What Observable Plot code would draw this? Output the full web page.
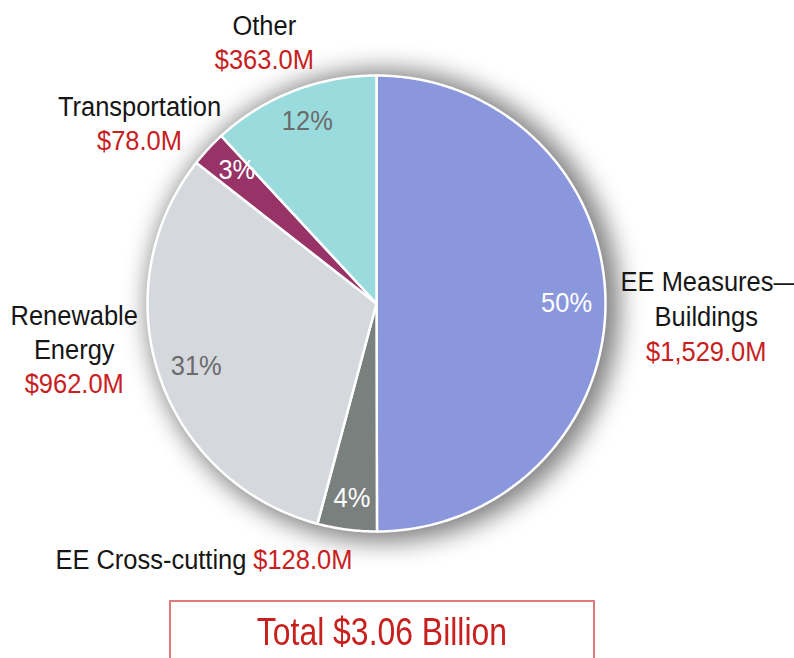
<!DOCTYPE html>
<html>
<head>
<meta charset="utf-8">
<script src="https://cdn.jsdelivr.net/npm/d3@7"></script>
<script src="https://cdn.jsdelivr.net/npm/@observablehq/plot@0.6"></script>
<style>
  html, body { margin: 0; padding: 0; background: #fff; }
  body { width: 794px; height: 658px; overflow: hidden; font-family: "Liberation Sans", Arial, sans-serif; }
  #total {
    position: absolute; left: 169px; top: 600px; width: 426px; height: 80px;
    border: 2px solid #e07a7a; box-sizing: border-box;
    color: #c8201e; font-size: 38px; text-align: center; line-height: 60px;
  }
  #total span { display: inline-block; transform: scaleX(0.84); transform-origin: center; white-space: nowrap; }
</style>
</head>
<body>
<div id="chart"></div>
<div id="total"><span>Total $3.06 Billion</span></div>
<script>
const categories = ["EE Measures—Buildings", "EE Cross-cutting", "Renewable Energy", "Transportation", "Other"];
const values = [1529.0, 128.0, 962.0, 78.0, 363.0];
const percentLabels = ["50%", "4%", "31%", "3%", "12%"];
const valueLabels = ["$1,529.0M", "$128.0M", "$962.0M", "$78.0M", "$363.0M"];
const sliceColors = ["#8b97dc", "#7a807e", "#d5d9dd", "#973366", "#9adbdd"];
const percentColors = ["#ffffff", "#ffffff", "#6b6b6b", "#ffffff", "#6b6b6b"];

const FONT = "Liberation Sans, Arial, sans-serif";
const SQUEEZE = 0.91;

// pie geometry (unit circle, angle 0 at 12 o'clock, clockwise)
const arcs = d3.pie().sort(null).value(d => d)(values);
const slicePoints = [];
arcs.forEach((a, i) => {
  slicePoints.push({name: categories[i], x: 0, y: 0});
  const n = Math.max(2, Math.ceil((a.endAngle - a.startAngle) / 0.01));
  for (let k = 0; k <= n; k++) {
    const t = a.startAngle + (a.endAngle - a.startAngle) * k / n;
    slicePoints.push({name: categories[i], x: Math.sin(t), y: Math.cos(t)});
  }
});
const pctData = arcs.map((a, i) => {
  const m = (a.startAngle + a.endAngle) / 2;
  return {label: percentLabels[i], color: percentColors[i], x: 0.83 * Math.sin(m), y: 0.86 * Math.cos(m)};
});

// outside label lines, placed around the pie in unit coordinates
const nameLabels = [
  {text: "Other", x: -0.49, y: 1.215},
  {text: "Transportation", x: -1.035, y: 0.860},
  {text: "Renewable", x: -1.32, y: -0.057},
  {text: "Energy", x: -1.32, y: -0.206},
  {text: "Buildings", x: 1.44, y: -0.061}
];
const valLabels = [
  {text: valueLabels[4], x: -0.49, y: 1.066},
  {text: valueLabels[3], x: -1.035, y: 0.711},
  {text: valueLabels[2], x: -1.32, y: -0.355},
  {text: valueLabels[0], x: 1.44, y: -0.211}
];

const plot = Plot.plot({
  width: 794,
  height: 590,
  margin: 0,
  x: {domain: [-1, 1], range: [147, 605], axis: null},
  y: {domain: [-1, 1], range: [531, 75], axis: null},
  color: {domain: categories, range: sliceColors},
  marks: [
    Plot.dot([{x: 0.03, y: -0.01}], {x: "x", y: "y", r: 236, fill: "#000", fillOpacity: 0.5}),
    Plot.line(slicePoints, {x: "x", y: "y", z: "name", fill: "name", stroke: "#ffffff", strokeWidth: 2.5, strokeLinejoin: "round", curve: "linear-closed"}),
    Plot.text(pctData, {x: "x", y: "y", text: "label", fill: d => d.color, fontSize: 28, fontFamily: FONT}),
    Plot.text(nameLabels, {x: "x", y: "y", text: "text", fill: "#161616", fontSize: 28, fontFamily: FONT, textAnchor: "middle"}),
    Plot.text([{t: "EE Measures—", x: 1.066, y: 0.092}], {x: "x", y: "y", text: "t", fill: "#161616", fontSize: 28, fontFamily: FONT, textAnchor: "start"}),
    Plot.text(valLabels, {x: "x", y: "y", text: "text", fill: "#c8201e", fontSize: 28, fontFamily: FONT, textAnchor: "middle"}),
    Plot.text([{t: categories[1], x: -0.568, y: -1.127}], {x: "x", y: "y", text: "t", fill: "#161616", fontSize: 28, fontFamily: FONT, textAnchor: "end"}),
    Plot.text([{t: valueLabels[1], x: -0.538, y: -1.127}], {x: "x", y: "y", text: "t", fill: "#c8201e", fontSize: 28, fontFamily: FONT, textAnchor: "start"})
  ]
});

const svg = d3.select(plot);
// soft shadow filter on the backing disc
const defs = svg.insert("defs", ":first-child");
defs.append("filter").attr("id", "softshadow").attr("x", "-30%").attr("y", "-30%").attr("width", "160%").attr("height", "160%")
  .append("feGaussianBlur").attr("stdDeviation", 12);
svg.selectAll('g[aria-label="dot"]').attr("filter", "url(#softshadow)");
// condensed look: squeeze text horizontally around its anchor
svg.selectAll("text").each(function() {
  const t = this.getAttribute("transform") || "";
  this.setAttribute("transform", t + ` scale(${SQUEEZE},1)`);
});

document.getElementById("chart").appendChild(plot);
</script>
</body>
</html>
